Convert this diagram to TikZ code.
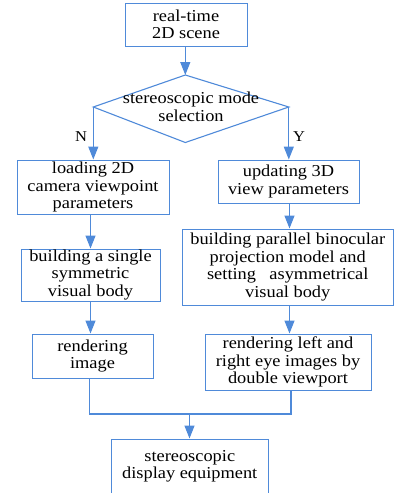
\documentclass[tikz,border=0pt]{standalone}
\usepackage{fontspec}
\setmainfont{Liberation Serif}[FakeStretch=1.1]
\usetikzlibrary{arrows.meta}
\definecolor{lineblue}{HTML}{4F8AD9}
\begin{document}
\begin{tikzpicture}[x=1pt,y=-1pt,
  box/.style={draw=lineblue, line width=1pt, rectangle, inner sep=0pt, align=center,
    font=\fontsize{16.7}{17.5}\selectfont, text=black},
  conn/.style={draw=lineblue, line width=1.1pt},
  arr/.style={conn, -{Triangle[length=13pt,width=10pt]}},
  lbl/.style={font=\fontsize{15}{15}\selectfont, text=black, inner sep=0pt}]
\useasboundingbox (0,0) rectangle (394,493);
\clip (0,0) rectangle (394,493);
% columns
\coordinate (colL) at (90.5,0);
\coordinate (colR) at (289.5,0);
% boxes
\node[box, minimum width=122pt, minimum height=43pt] (top) at (186,24.5) {real-time\\2D scene};
\node[box, minimum width=152pt, minimum height=54pt] (N1) at (93,187) {loading 2D\\camera viewpoint\\parameters};
\node[box, minimum width=141pt, minimum height=43pt] (Y1) at (288.5,181.5) {updating 3D\\view parameters};
\node[box, minimum width=139pt, minimum height=52pt] (N2) at (90.5,275) {building a single\\symmetric\\visual body};
\node[box, minimum width=211.5pt, minimum height=76pt] (Y2) at (287.75,267) {building parallel binocular\\projection model and\\setting\hspace{0.8em}asymmetrical\\visual body};
\node[box, minimum width=121pt, minimum height=44pt] (N3) at (92.5,356) {rendering\\image};
\node[box, minimum width=166pt, minimum height=56pt] (Y3) at (288,362) {rendering left and\\right eye images by\\double viewport};
\node[box, minimum width=156.5pt, minimum height=55pt] (bot) at (189.75,466.5) {stereoscopic\\display equipment};
% diamond
\coordinate (dT) at (185.3,75);
\coordinate (dR) at (288.8,107);
\coordinate (dB) at (185.3,142.5);
\coordinate (dL) at (93.3,107);
\draw[conn] (dT) -- (dR) -- (dB) -- (dL) -- cycle;
\node[align=center, inner sep=0pt, font=\fontsize{16.7}{17.5}\selectfont, text=black] (sel) at (191,107) {stereoscopic mode\\selection};
% connectors
\draw[arr] (top.south -| dT) -- (dT);
\draw[arr] (dL) -- (dL |- N1.north);
\draw[arr] (dR) -- (dR |- Y1.north);
\draw[arr] (N1.south -| colL) -- (N2.north -| colL);
\draw[arr] (N2.south -| colL) -- (N3.north -| colL);
\draw[arr] (Y1.south -| colR) -- (Y2.north -| colR);
\draw[arr] (Y2.south -| colR) -- (Y3.north -| colR);
\coordinate (mL) at (89.5,414);
\coordinate (mR) at (291,414);
\coordinate (mM) at (189.5,414);
\draw[conn] (N3.south -| mL) -- (mL) -- (mR) -- (Y3.south -| mR);
\draw[arr] (mM) -- (bot.north -| mM);
% labels
\node[lbl] (lN) at (81,137) {N};
\node[lbl] (lY) at (299,137) {Y};
\end{tikzpicture}
\end{document}
